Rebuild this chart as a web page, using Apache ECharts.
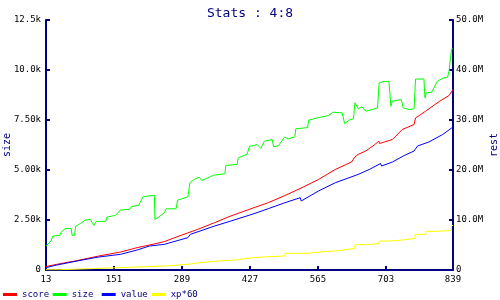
<!DOCTYPE html>
<html>
<head>
<meta charset="utf-8">
<script src="https://cdn.jsdelivr.net/npm/echarts@6/dist/echarts.min.js"></script>
<style>html,body{margin:0;padding:0;background:#fff}#c{width:500px;height:300px}</style>
</head>
<body>
<div id="c"></div>
<script>
// x-axis tick labels
var xTicks = [13, 151, 289, 427, 565, 703, 839];
var legendNames = ['score', 'size', 'value', 'xp*60'];
// size (left axis, units)
var sizeData = [[13,1200],[23,1450],[27,1700],[41,1730],[43,1870],[52,2070],[64,2080],[66,1730],[71,1740],[73,2170],[83,2330],[93,2500],[103,2530],[110,2230],[115,2430],[134,2430],[137,2650],[154,2730],[164,3000],[183,3030],[186,3170],[201,3230],[210,3660],[223,3710],[233,3730],[234,2530],[240,2610],[253,2860],[257,3060],[277,3060],[280,3490],[301,3660],[305,4360],[314,4530],[324,4640],[329,4480],[340,4590],[353,4740],[376,4810],[378,5230],[401,5280],[403,5610],[421,5780],[426,6190],[435,6220],[441,6280],[449,6080],[456,6440],[472,6520],[475,6160],[485,6220],[497,6640],[505,6560],[518,6660],[520,7060],[544,7120],[546,7490],[564,7610],[586,7720],[596,7890],[614,7860],[619,7320],[630,7520],[637,7560],[640,8360],[647,8060],[654,8160],[662,7940],[675,8020],[686,8110],[689,9350],[699,9430],[709,9430],[713,8190],[716,8440],[734,8520],[738,8110],[750,8020],[760,8060],[763,9550],[780,9550],[782,8610],[785,8860],[796,8890],[807,9430],[819,9600],[828,9640],[831,9930],[834,9930],[836,11050],[839,11050]];
// score (right axis, millions)
var scoreData = [[13,0.68],[35,1.14],[76,1.88],[120,2.8],[164,3.59],[198,4.47],[223,5.0],[253,5.67],[287,6.93],[321,8.13],[355,9.46],[388,10.8],[435,12.46],[464,13.46],[498,14.9],[532,16.45],[566,18.1],[600,20.1],[633,21.6],[640,22.6],[646,23.1],[662,23.8],[682,25.2],[688,25.8],[690,25.3],[716,26.1],[736,28.1],[760,29.1],[763,30.4],[784,31.8],[811,33.7],[831,34.9],[839,36.1]];
// value (right axis, millions)
var valueData = [[13,0.48],[35,1.0],[76,1.8],[120,2.6],[164,3.13],[198,4.0],[223,4.8],[253,5.13],[301,6.47],[306,7.13],[355,8.79],[388,9.79],[435,11.26],[464,12.26],[498,13.46],[529,14.46],[531,13.8],[566,15.8],[600,17.45],[646,19.1],[669,20.1],[692,21.3],[694,20.8],[716,21.6],[740,22.9],[760,23.8],[767,24.8],[790,25.6],[818,27.1],[839,28.6]];
// xp*60 (right axis, millions)
var xpData = [[13,0.05],[41,0.3],[111,0.55],[186,0.8],[257,1.14],[301,1.48],[328,1.8],[362,2.0],[399,2.34],[422,2.6],[451,2.8],[498,3.34],[545,3.6],[569,3.93],[613,4.33],[640,5.07],[665,5.27],[689,5.8],[713,6.0],[736,6.33],[762,7.13],[784,7.73],[804,7.87],[828,8.0],[836,8.8],[839,8.95]];

var x0 = xTicks[0];
function shift(arr){ return arr.map(function(p){ return [p[0]-x0, p[1]]; }); }
var navy = '#000080';
var mono = 'DejaVu Sans Mono';
var axisCommon = {
  axisLine: {show: true, lineStyle: {color: navy, width: 2}},
  axisTick: {show: true, inside: true, length: 4, lineStyle: {color: navy, width: 2}},
  splitLine: {show: false}
};
var legendLefts = [3, 52.7, 101.7, 151.7];
var legends = legendNames.map(function(n, i){
  return {data: [n], left: legendLefts[i], top: 290, padding: 0, icon: 'rect', itemWidth: 14, itemHeight: 3,
    textStyle: {fontFamily: mono, fontSize: 9, color: navy}};
});
var chart = echarts.init(document.getElementById('c'));
chart.setOption({
  animation: false,
  backgroundColor: '#fff',
  title: {text: 'Stats : 4:8', left: 'center', top: 2, textStyle: {color: navy, fontFamily: mono, fontSize: 13, fontWeight: 'normal'}},
  grid: {left: 46, right: 47, top: 20, bottom: 30, containLabel: false, outerBoundsMode: 'none'},
  legend: legends,
  xAxis: Object.assign({type: 'value', min: 0, max: xTicks[xTicks.length-1]-x0, interval: xTicks[1]-xTicks[0],
    axisLabel: {color: '#000', fontFamily: mono, fontSize: 9, margin: 5, formatter: function(v){ return String(v + x0); }}}, axisCommon),
  yAxis: [
    Object.assign({type: 'value', position: 'left', min: 0, max: 12500, interval: 2500,
      name: 'size', nameLocation: 'middle', nameGap: 34, nameRotate: 90, nameMoveOverlap: false,
      nameTextStyle: {color: navy, fontFamily: mono, fontSize: 10},
      axisLabel: {color: '#000', fontFamily: mono, fontSize: 9, margin: 5,
        formatter: function(v){ return v === 0 ? '0' : (v/1000).toPrecision(3) + 'k'; }}}, axisCommon),
    Object.assign({type: 'value', position: 'right', min: 0, max: 50, interval: 10,
      name: 'rest', nameLocation: 'middle', nameGap: 36, nameRotate: 90, nameMoveOverlap: false,
      nameTextStyle: {color: navy, fontFamily: mono, fontSize: 10},
      axisLabel: {color: '#000', fontFamily: mono, fontSize: 9, margin: 3,
        formatter: function(v){ return v === 0 ? '0' : v.toFixed(1) + 'M'; }}}, axisCommon)
  ],
  series: [
    {name: 'score', type: 'line', yAxisIndex: 1, data: shift(scoreData), symbol: 'none', color: '#ff0000', lineStyle: {width: 1}},
    {name: 'size', type: 'line', yAxisIndex: 0, data: shift(sizeData), symbol: 'none', color: '#00ff00', lineStyle: {width: 1}},
    {name: 'value', type: 'line', yAxisIndex: 1, data: shift(valueData), symbol: 'none', color: '#0000ff', lineStyle: {width: 1}},
    {name: 'xp*60', type: 'line', yAxisIndex: 1, data: shift(xpData), step: 'end', symbol: 'none', color: '#ffff00', lineStyle: {width: 1}}
  ]
});
</script>
</body>
</html>
